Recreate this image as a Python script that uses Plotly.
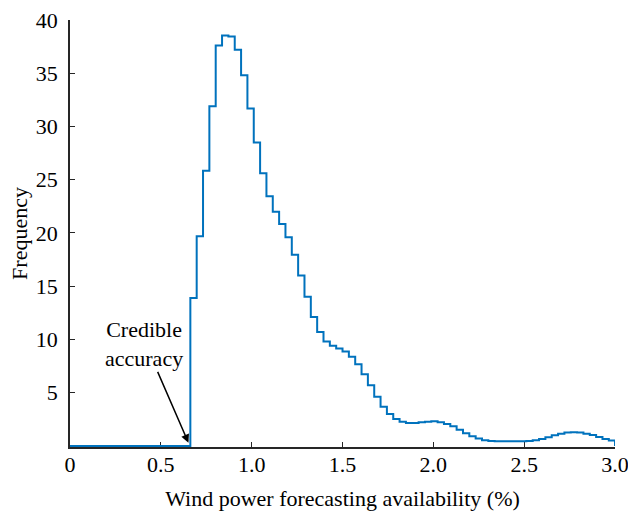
import plotly.graph_objects as go

# Histogram bins: left edges (wind power forecasting availability, %)
bin_edges = [0.6625, 0.6974, 0.7323, 0.7672, 0.8021, 0.8370, 0.8719, 0.9068,
             0.9417, 0.9766, 1.0115, 1.0464, 1.0813, 1.1162, 1.1511, 1.1860,
             1.2209, 1.2558, 1.2907, 1.3256, 1.3605, 1.3954, 1.4303, 1.4652,
             1.5001, 1.5350, 1.5699, 1.6048, 1.6397, 1.6746, 1.7095, 1.7444,
             1.7793, 1.8142, 1.8491, 1.8840, 1.9189, 1.9538, 1.9887, 2.0236,
             2.0585, 2.0934, 2.1283, 2.1632, 2.1981, 2.2330, 2.2679, 2.3028,
             2.3377, 2.3726, 2.4075, 2.4424, 2.4773, 2.5122, 2.5471, 2.5820,
             2.6169, 2.6518, 2.6867, 2.7216, 2.7565, 2.7914, 2.8263, 2.8612,
             2.8961, 2.9310, 2.9659, 3.0]

frequency = [13.9, 19.7, 25.85, 31.9, 37.6, 38.55, 38.45, 37.2,
             34.8, 31.7, 28.5, 25.6, 23.45, 22.0, 20.85, 19.6,
             17.95, 16.0, 14.0, 12.1, 10.7, 9.8, 9.4, 9.15,
             8.87, 8.37, 7.68, 6.74, 5.71, 4.62, 3.68, 3.0,
             2.53, 2.28, 2.15, 2.15, 2.22, 2.28, 2.31, 2.22,
             2.06, 1.84, 1.53, 1.19, 0.91, 0.69, 0.53, 0.47,
             0.44, 0.44, 0.44, 0.44, 0.45, 0.47, 0.53, 0.66,
             0.81, 1.0, 1.15, 1.25, 1.28, 1.25, 1.15, 1.03,
             0.84, 0.66, 0.5]

x_tick_vals = [0, 0.5, 1.0, 1.5, 2.0, 2.5, 3.0]
x_tick_text = ["0", "0.5", "1.0", "1.5", "2.0", "2.5", "3.0"]
y_tick_vals = [5, 10, 15, 20, 25, 30, 35, 40]

credible_x = 0.652

# step outline: start at 0, rise at first edge, drop at last edge
xs = [0] + bin_edges + [bin_edges[-1]]
ys = [0] + frequency + [frequency[-1], 0]
xs = xs[:len(ys)]

FONT = "Liberation Serif"
AX = "#262626"

fig = go.Figure()
fig.add_trace(go.Scatter(x=xs, y=ys, mode="lines", line_shape="hv",
                         line=dict(color="#0072BD", width=2), showlegend=False,
                         hoverinfo="skip"))

fig.add_annotation(x=credible_x, y=0.3, ax=0.479, ay=7.1, axref="x", ayref="y",
                   xref="x", yref="y", text="", showarrow=True,
                   arrowhead=2, arrowsize=1.1, arrowwidth=1.5, arrowcolor="black")
fig.add_annotation(x=0.407, y=9.6, xref="x", yref="y",
                   text="Credible<br>accuracy", showarrow=False,
                   font=dict(family=FONT, size=22, color="black"))

fig.update_layout(
    width=628, height=511,
    margin=dict(l=70, r=13, t=20, b=64),
    plot_bgcolor="white", paper_bgcolor="white",
    font=dict(family=FONT, size=22, color=AX),
    xaxis=dict(range=[0, 3.0], tickvals=x_tick_vals, ticktext=x_tick_text,
               ticks="inside", ticklen=5, tickwidth=1.2, tickcolor=AX,
               showline=True, linecolor=AX, linewidth=1.5, mirror=False,
               showgrid=False, zeroline=False, layer="below traces",
               automargin=False, ticklabeloverflow="allow", ticklabelstandoff=-3,
               title=dict(text="Wind power forecasting availability (%)",
                          font=dict(family=FONT, size=22, color="black"), standoff=15),
               tickfont=dict(family=FONT, size=22, color="black")),
    yaxis=dict(range=[-0.1, 40], tickvals=y_tick_vals,
               ticks="inside", ticklen=5, tickwidth=1.2, tickcolor=AX,
               showline=True, linecolor=AX, linewidth=1.5, mirror=False,
               showgrid=False, zeroline=False, layer="below traces",
               automargin=False, ticklabeloverflow="allow", ticklabelstandoff=6,
               title=dict(text="Frequency",
                          font=dict(family=FONT, size=22, color="black"), standoff=2),
               tickfont=dict(family=FONT, size=22, color="black")),
)

fig.write_html("out.html",
               config={"displayModeBar": False},
               post_script="document.body.style.margin='0';"
                           "document.body.style.overflow='hidden';")
